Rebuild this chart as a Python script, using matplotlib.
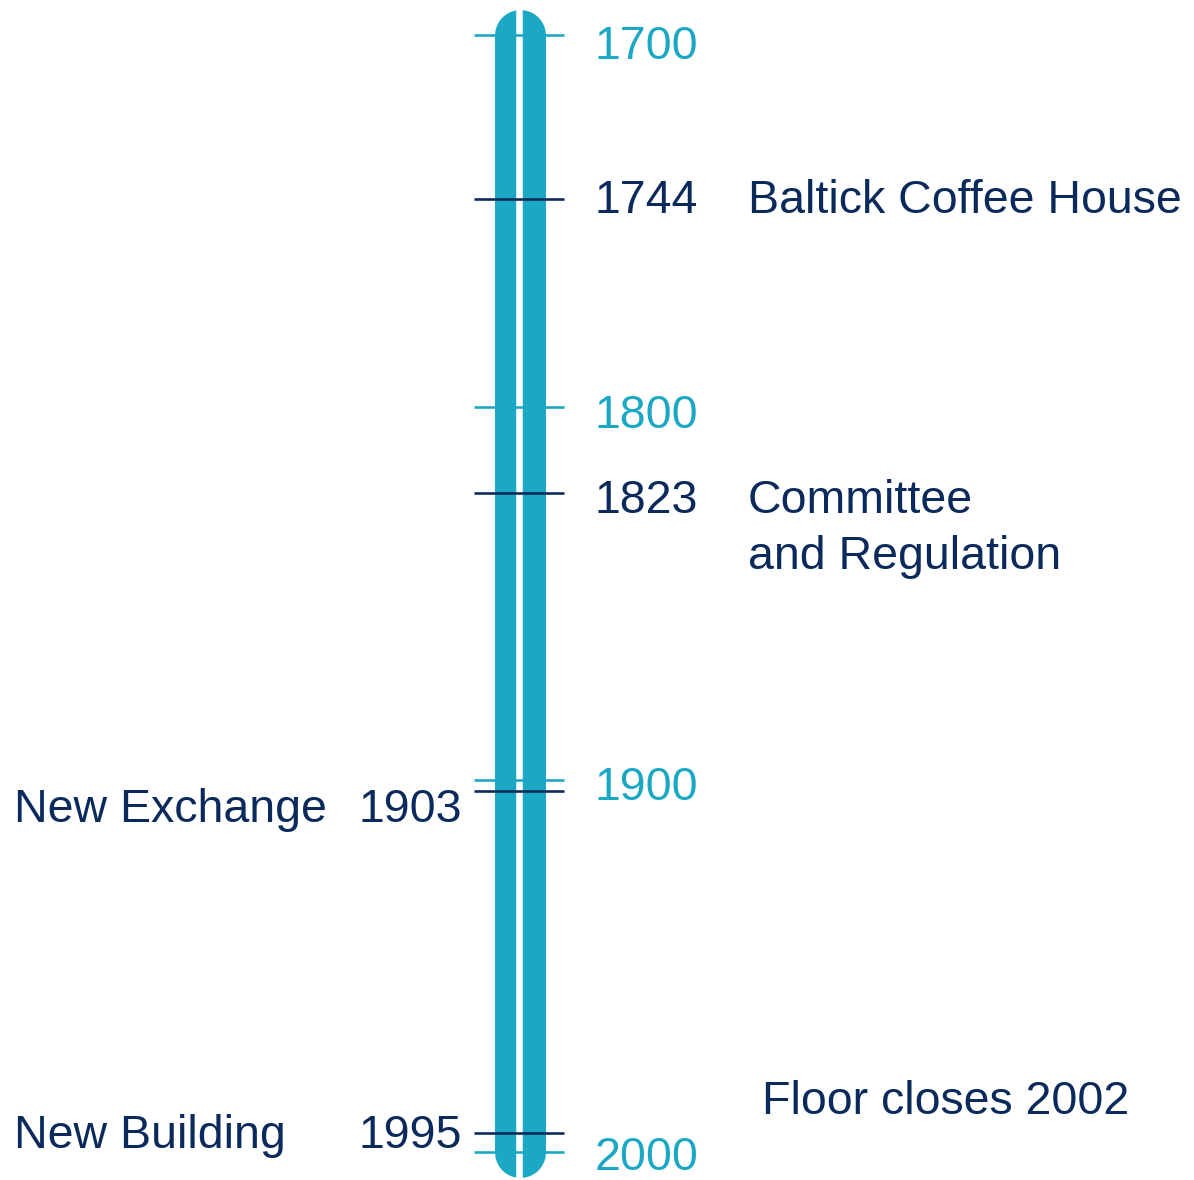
import matplotlib
matplotlib.use("Agg")
import matplotlib.pyplot as plt

plt.rcParams['font.family'] = ['Liberation Sans', 'DejaVu Sans']

# ---- data ----
axis_years = [1700, 1800, 1900, 2000]
event_years = [1744, 1823, 1903, 1995]
event_labels = ["Baltick Coffee House", "Committee\nand Regulation", "New Exchange", "New Building"]
event_side = ["right", "right", "left", "left"]
note_text = "Floor closes 2002"

TEAL = "#1BA8C5"
NAVY = "#0B2A5C"
FS = 33.5

W, H = 1194, 1180
fig = plt.figure(figsize=(W / 100, H / 100), dpi=100)
ax = fig.add_axes([0, 0, 1, 1])

# y scale: year -> pixel (top of picture = small years)
PX_PER_YEAR = 3.723
Y0_PX = 35.0
def px2yr(py):
    return 1700 + (py - Y0_PX) / PX_PER_YEAR

ax.set_xlim(0, W)
ax.set_ylim(px2yr(H), px2yr(0))
ax.axis("off")

pt = 72 / 100  # points per pixel

# main bar with rounded caps
ax.plot([519.5, 519.5], [min(axis_years), max(axis_years)], color=TEAL,
        lw=51 * pt, solid_capstyle="round", zorder=1)
# white gap
ax.plot([519, 519], [px2yr(-5), px2yr(H + 5)], color="white",
        lw=6.5 * pt, solid_capstyle="butt", zorder=2)

# baseline offsets of labels below their tick (pixels)
axis_off = {1700: 24, 1800: 21, 1900: 20, 2000: 18}
event_off = [14, 20, 31, 15]
LINE_GAP = 56

# axis ticks and labels
for yr in axis_years:
    ax.plot([474, 564], [yr, yr], color=TEAL, lw=2.6 * pt, zorder=3,
            solid_capstyle="butt")
    ax.text(595, yr + axis_off[yr] / PX_PER_YEAR, str(yr), color=TEAL,
            fontsize=FS, ha="left", va="baseline")

# events
for yr, lab, side, off in zip(event_years, event_labels, event_side, event_off):
    ax.plot([474, 564], [yr, yr], color=NAVY, lw=2.6 * pt, zorder=4,
            solid_capstyle="butt")
    ty = yr + off / PX_PER_YEAR
    if side == "right":
        ax.text(595, ty, str(yr), color=NAVY, fontsize=FS, ha="left", va="baseline")
        for i, line in enumerate(lab.split("\n")):
            ax.text(748, ty + i * LINE_GAP / PX_PER_YEAR, line, color=NAVY,
                    fontsize=FS, ha="left", va="baseline")
    else:
        ax.text(462, ty, str(yr), color=NAVY, fontsize=FS, ha="right", va="baseline")
        ax.text(14, ty, lab, color=NAVY, fontsize=FS, ha="left", va="baseline")

ax.text(762, px2yr(1114), note_text, color=NAVY, fontsize=FS, ha="left", va="baseline")

fig.savefig("out.png", dpi=100)
